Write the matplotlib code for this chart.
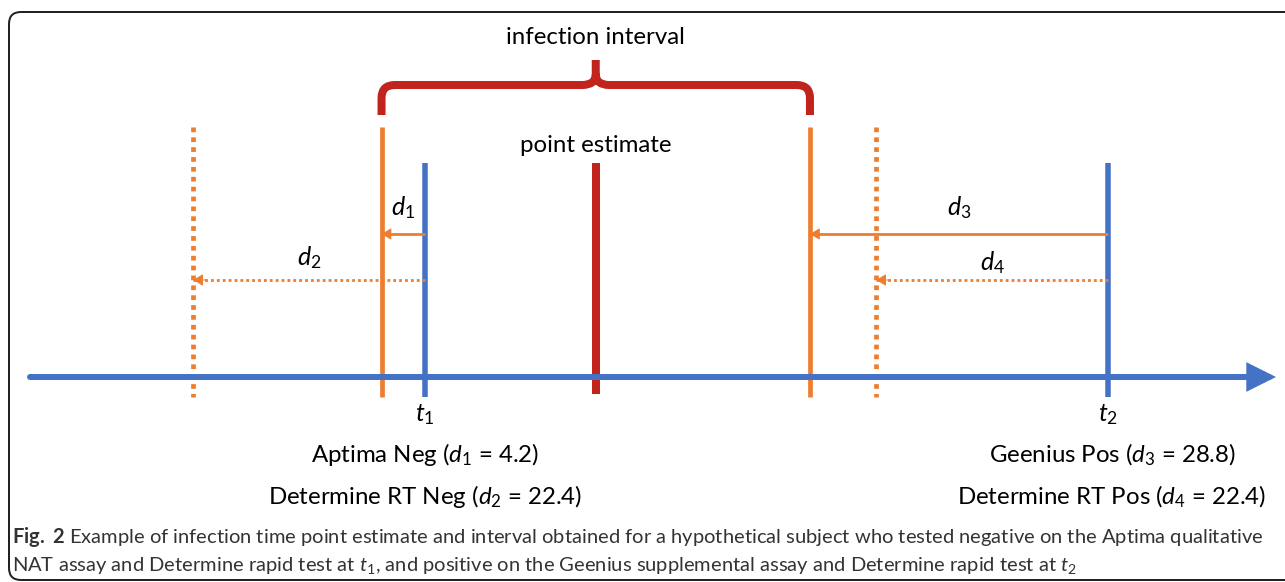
import matplotlib.pyplot as plt
from matplotlib.path import Path
from matplotlib.patches import PathPatch, FancyBboxPatch
from matplotlib.transforms import IdentityTransform

# time in days, t1 taken as day 0
t1 = 0.0
t2 = 66.0
d_names = ['d1', 'd2', 'd3', 'd4']
d_values = [4.2, 22.4, 28.8, 22.4]
label_neg = ['Aptima Neg', 'Determine RT Neg']
label_pos = ['Geenius Pos', 'Determine RT Pos']

BLUE = '#4472C4'
ORANGE = '#ED7D31'
RED = '#C0241C'
FONT = 'Lato'

plt.rcParams['font.family'] = [FONT, 'DejaVu Sans']
plt.rcParams['mathtext.fontset'] = 'custom'
plt.rcParams['mathtext.it'] = FONT + ':italic'
plt.rcParams['mathtext.rm'] = FONT
plt.rcParams['mathtext.bf'] = FONT + ':bold'

W, H = 1285, 582
px_day = 683 / (t2 - t1)
x0 = 425  # pixel of t1

fig = plt.figure(figsize=(W / 100, H / 100), dpi=100)
ax = fig.add_axes([0, 0, 1, 1])
ax.set_xlim(-x0 / px_day, (W - x0) / px_day)
ax.set_ylim(H, 0)
ax.axis('off')

def px(p):
    return p * 72 / 100

def dsym(n):
    return r'$d_{\mathit{%s}}$' % n

# frame
fig.add_artist(FancyBboxPatch((9, H - 580), 1300, 568, boxstyle='round,pad=0,rounding_size=12',
                              transform=IdentityTransform(), fill=False, ec='#222222', lw=px(2)))

lo_neg = t1 - d_values[0]
lo_neg2 = t1 - d_values[1]
hi_pos = t2 - d_values[2]
hi_pos2 = t2 - d_values[3]
mid = (lo_neg + hi_pos) / 2

# main time axis
xa0 = (30 - x0) / px_day
xa1 = (1276 - x0) / px_day
ax.annotate('', xy=(xa1, 377), xytext=(xa0, 377),
            arrowprops=dict(arrowstyle='-|>,head_length=0.9,head_width=0.45', mutation_scale=16,
                            lw=px(6), color=BLUE, shrinkA=0, shrinkB=0, joinstyle='miter'))

# vertical markers
ax.vlines([t1, t2], 163, 397, color=BLUE, lw=px(5.5))
ax.vlines([lo_neg, hi_pos], 127, 397, color=ORANGE, lw=px(4.7))
ax.vlines([lo_neg2, hi_pos2], 127, 397, color=ORANGE, lw=px(4.7), linestyles=[(0, (1, 1.1))])
ax.vlines([mid], 163, 394, color=RED, lw=px(8))

# distance arrows
arrows = [(t1, lo_neg, 234, '-'), (t1, lo_neg2, 280, ':'), (t2, hi_pos, 234, '-'), (t2, hi_pos2, 280, ':')]
for (a, b, y, ls) in arrows:
    if ls == '-':
        ax.plot([a, b], [y, y], color=ORANGE, lw=px(2.8), solid_capstyle='butt')
    else:
        ax.plot([a, b], [y, y], color=ORANGE, lw=px(2.8), linestyle=(0, (1, 1.1)))
    ax.annotate('', xy=(b, y), xytext=(b + 1.2, y),
                arrowprops=dict(arrowstyle='-|>,head_length=0.5,head_width=0.3', mutation_scale=12,
                                lw=px(1), color=ORANGE, shrinkA=0, shrinkB=0))

lbl_y = [208, 258, 208, 263]
for (a, b, y, ls), name, ly in zip(arrows, d_names, lbl_y):
    ax.text((a + b) / 2, ly, dsym(name[1]), ha='center', va='center', fontsize=18)

# brace
r = 1.3
L, R = lo_neg, hi_pos
verts = [(L, 115), (L, 98), (L, 85), (L + r, 85), (mid - r, 85), (mid, 85), (mid, 74), (mid, 60),
         (mid, 74), (mid, 85), (mid + r, 85), (R - r, 85), (R, 85), (R, 98), (R, 115)]
codes = [Path.MOVETO, Path.LINETO, Path.CURVE3, Path.CURVE3, Path.LINETO, Path.CURVE3, Path.CURVE3,
         Path.LINETO, Path.MOVETO, Path.CURVE3, Path.CURVE3, Path.LINETO, Path.CURVE3, Path.CURVE3, Path.LINETO]
ax.add_patch(PathPatch(Path(verts, codes), fill=False, ec=RED, lw=px(8), capstyle='butt', joinstyle='round'))

FS = 17.3
ax.text(mid, 38, 'infection interval', ha='center', va='center', fontsize=FS)
ax.text(mid, 146, 'point estimate', ha='center', va='center', fontsize=FS)

ax.text(t1, 415, r'$t_{\mathit{1}}$', ha='center', va='center', fontsize=18)
ax.text(t2, 415, r'$t_{\mathit{2}}$', ha='center', va='center', fontsize=18)
ax.text(t1, 455, '%s (%s = %.1f)' % (label_neg[0], dsym(1), d_values[0]), ha='center', va='center', fontsize=FS)
ax.text(t1, 497, '%s (%s = %.1f)' % (label_neg[1], dsym(2), d_values[1]), ha='center', va='center', fontsize=FS)
ax.text(t2 + 0.4, 455, '%s (%s = %.1f)' % (label_pos[0], dsym(3), d_values[2]), ha='center', va='center', fontsize=FS)
ax.text(t2 + 0.3, 497, '%s (%s = %.1f)' % (label_pos[1], dsym(4), d_values[3]), ha='center', va='center', fontsize=FS)

cap1 = (r'$\mathbf{Fig.\ 2}$ Example of infection time point estimate and interval obtained for a hypothetical '
        r'subject who tested negative on the Aptima qualitative')
cap2 = (r'NAT assay and Determine rapid test at $t_{\mathit{1}}$, and positive on the Geenius supplemental assay '
        r'and Determine rapid test at $t_{\mathit{2}}$')
fig.text(12 / W, 1 - 537 / H, cap1, ha='left', va='center', fontsize=14.5, color='#333333')
fig.text(12 / W, 1 - 566 / H, cap2, ha='left', va='center', fontsize=14.5, color='#333333')

fig.savefig('out.png', dpi=100)
